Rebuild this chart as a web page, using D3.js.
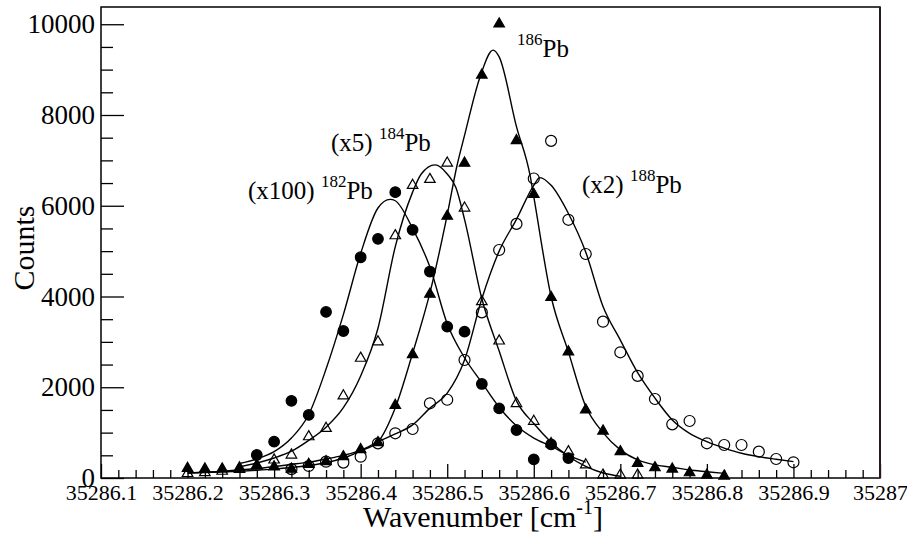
<!DOCTYPE html>
<html>
<head>
<meta charset="utf-8">
<script src="https://cdn.jsdelivr.net/npm/d3@7"></script>
<style>
  body { margin: 0; background: #fff; }
  svg text { font-family: "Liberation Serif", "Times New Roman", serif; fill: #000; }
</style>
</head>
<body>
<svg id="chart" width="907" height="535"></svg>
<script>
// measured points, one slot per 0.02 cm-1 step (null = no point)
const wavenumber = [35286.20, 35286.22, 35286.24, 35286.26, 35286.28, 35286.30, 35286.32, 35286.34, 35286.36, 35286.38,
  35286.40, 35286.42, 35286.44, 35286.46, 35286.48, 35286.50, 35286.52, 35286.54, 35286.56, 35286.58,
  35286.60, 35286.62, 35286.64, 35286.66, 35286.68, 35286.70, 35286.72, 35286.74, 35286.76, 35286.78,
  35286.80, 35286.82, 35286.84, 35286.86, 35286.88, 35286.90];

const pb182 = [null, null, null, null, 507, 800, 1700, 1390, 3660, 3240,
  4865, 5270, 6300, 5470, 4550, 3335, 3225, 2072, 1536, 1058,
  412, 740, 440, null, null, null, null, null, null, null,
  null, null, null, null, null, null];
const pb184 = [100, 120, 150, 190, 260, 397, 507, 910, 1095, 1810,
  2640, 3000, 5340, 6450, 6580, 6940, 5950, 3886, 3020, 1640,
  1250, 760, 580, 290, 66, 66, 66, null, null, null,
  null, null, null, null, null, null];
const pb186 = [214, 200, 200, 225, 280, 245, 195, 300, 360, 470,
  625, 780, 1600, 2720, 4050, 5770, 6940, 8880, 10006, 7435,
  6250, 3980, 2780, 1500, 1036, 580, 324, 227, 198, 117,
  66, 44, null, null, null, null];
const pb188 = [null, null, null, null, null, null, 195, 264, 360, 340,
  470, 764, 985, 1080, 1646, 1725, 2600, 3650, 5025, 5600,
  6600, 7430, 5690, 4937, 3445, 2770, 2250, 1741, 1183, 1256,
  765, 727, 727, 580, 419, 346];

// fitted line shapes
const fit182X = [35286.26, 35286.28, 35286.30, 35286.32, 35286.34, 35286.36, 35286.38, 35286.40, 35286.42, 35286.434,
  35286.44, 35286.46, 35286.48, 35286.50, 35286.52, 35286.54, 35286.56, 35286.58, 35286.60, 35286.62, 35286.64, 35286.66];
const fit182Y = [320, 420, 580, 880, 1400, 2400, 3600, 4950, 5950, 6140,
  6110, 5500, 4650, 3400, 2650, 2100, 1560, 1150, 880, 700, 500, 350];

const fit184X = [35286.26, 35286.28, 35286.30, 35286.32, 35286.34, 35286.36, 35286.38, 35286.40, 35286.42, 35286.44,
  35286.46, 35286.47, 35286.486, 35286.50, 35286.51, 35286.52, 35286.54, 35286.56, 35286.58, 35286.60,
  35286.62, 35286.64, 35286.66, 35286.68, 35286.70];
const fit184Y = [250, 330, 440, 590, 830, 1120, 1550, 2250, 3300, 5100,
  6300, 6700, 6900, 6700, 6400, 5700, 3950, 2800, 1700, 1200,
  790, 480, 255, 110, 40];

const fit186X = [35286.20, 35286.22, 35286.24, 35286.26, 35286.28, 35286.30, 35286.32, 35286.34, 35286.36, 35286.38,
  35286.40, 35286.42, 35286.44, 35286.46, 35286.48, 35286.50, 35286.511, 35286.52, 35286.538, 35286.553,
  35286.56, 35286.58, 35286.596, 35286.60, 35286.62, 35286.64, 35286.66, 35286.68, 35286.70, 35286.72,
  35286.74, 35286.76, 35286.78, 35286.80, 35286.82];
const fit186Y = [110, 120, 135, 150, 170, 195, 230, 275, 335, 440,
  600, 800, 1550, 2750, 4080, 5800, 6860, 7550, 8845, 9430,
  9280, 7743, 6641, 6200, 4000, 2780, 1580, 1000, 620, 400,
  290, 236, 176, 139, 103];

const fit188X = [35286.20, 35286.24, 35286.28, 35286.32, 35286.34, 35286.36, 35286.38, 35286.40, 35286.42, 35286.44,
  35286.46, 35286.48, 35286.50, 35286.52, 35286.54, 35286.56, 35286.58, 35286.60, 35286.607, 35286.62,
  35286.64, 35286.66, 35286.68, 35286.70, 35286.72, 35286.74, 35286.76, 35286.78, 35286.80, 35286.82,
  35286.84, 35286.86, 35286.88, 35286.90];
const fit188Y = [110, 150, 210, 300, 350, 420, 500, 610, 800, 970,
  1170, 1540, 1870, 2600, 3950, 5000, 5700, 6450, 6620, 6450,
  5830, 4980, 3780, 3040, 2320, 1760, 1280, 985, 800, 660,
  545, 470, 412, 360];

const xTicks = [35286.1, 35286.2, 35286.3, 35286.4, 35286.5, 35286.6, 35286.7, 35286.8, 35286.9, 35287];
const xTickLabels = ["35286.1", "35286.2", "35286.3", "35286.4", "35286.5", "35286.6", "35286.7", "35286.8", "35286.9", "35287"];
const yTicks = [0, 2000, 4000, 6000, 8000, 10000];
const yTickLabels = ["0", "2000", "4000", "6000", "8000", "10000"];

const serif = '"Liberation Serif", "Times New Roman", serif';
const svg = d3.select("#chart");
const frameL = 101, frameR = 880, frameT = 7, frameB = 478;

const x = d3.scaleLinear().domain([35286.1, 35287]).range([frameL, frameR]);
const y = d3.scaleLinear().domain([0, 10380]).range([frameB, frameT]);

// minor ticks
const xMinor = d3.range(0, 46).map(i => 35286.1 + i * 0.02).filter((v, i) => i % 5 !== 0);
const yMinor = d3.range(0, 21).map(i => i * 500).filter(v => v % 2000 !== 0);

function styleAxis(g) {
  g.select(".domain").remove();
  g.attr("font-family", null);
  g.selectAll("line").attr("stroke", "#000").attr("stroke-width", 1.3);
}

svg.append("g").attr("transform", `translate(0,${frameB})`)
  .call(d3.axisBottom(x).tickValues(xMinor).tickSize(-8).tickFormat(""))
  .call(styleAxis);
svg.append("g").attr("transform", `translate(0,${frameB})`)
  .call(d3.axisBottom(x).tickValues(xTicks).tickSize(-14).tickPadding(6)
    .tickFormat((d, i) => xTickLabels[i]))
  .call(styleAxis)
  .selectAll("text").style("font-size", "22px").style("font-family", serif);

svg.append("g").attr("transform", `translate(${frameL},0)`)
  .call(d3.axisLeft(y).tickValues(yMinor).tickSize(-12).tickFormat(""))
  .call(styleAxis);
svg.append("g").attr("transform", `translate(${frameL},0)`)
  .call(d3.axisLeft(y).tickValues(yTicks).tickSize(-23).tickPadding(6)
    .tickFormat((d, i) => yTickLabels[i]))
  .call(styleAxis)
  .selectAll("text").style("font-size", "27px").style("font-family", serif);

// frame
svg.append("rect")
  .attr("x", frameL).attr("y", frameT)
  .attr("width", frameR - frameL).attr("height", frameB - frameT)
  .attr("fill", "none").attr("stroke", "#000").attr("stroke-width", 1.5);
svg.append("line")
  .attr("x1", frameR).attr("x2", frameR).attr("y1", frameT).attr("y2", frameB)
  .attr("stroke", "#2a1a1a").attr("stroke-width", 2);

// fit curves
const line = d3.line().x(d => x(d[0])).y(d => y(d[1])).curve(d3.curveMonotoneX);
[[fit182X, fit182Y], [fit184X, fit184Y], [fit186X, fit186Y], [fit188X, fit188Y]].forEach(([fx, fy]) => {
  svg.append("path")
    .datum(fx.map((v, i) => [v, fy[i]]))
    .attr("d", line)
    .attr("fill", "none")
    .attr("stroke", "#000")
    .attr("stroke-width", 1.4);
});

// markers
const series = [
  { values: pb188, shape: d3.symbolCircle, size: 95, filled: false },
  { values: pb184, shape: d3.symbolTriangle, size: 48, filled: false },
  { values: pb182, shape: d3.symbolCircle, size: 88, filled: true },
  { values: pb186, shape: d3.symbolTriangle, size: 48, filled: true }
];
series.forEach(s => {
  const pts = wavenumber.map((w, i) => [w, s.values[i]]).filter(p => p[1] != null);
  svg.append("g").selectAll("path")
    .data(pts)
    .join("path")
    .attr("transform", d => `translate(${x(d[0])},${y(d[1])})`)
    .attr("d", d3.symbol(s.shape, s.size))
    .attr("fill", s.filled ? "#000" : "#fff")
    .attr("fill-opacity", s.filled ? 1 : 0)
    .attr("stroke", "#000")
    .attr("stroke-width", 1.2);
});

// isotope labels
function isoLabel(prefix, mass, xStart, base) {
  const t = svg.append("text").attr("x", xStart).attr("y", base).style("font-size", "25px");
  if (prefix) t.append("tspan").text(prefix + "\u00a0");
  t.append("tspan").style("font-size", "17px").attr("dy", -12.5).text(mass);
  t.append("tspan").attr("dy", 12.5).text("Pb");
}
isoLabel("(x100)", "182", 248, 199);
isoLabel("(x5)", "184", 331, 151);
isoLabel("", "186", 517, 57);
isoLabel("(x2)", "188", 582, 193);

// axis titles
svg.append("text")
  .attr("transform", "translate(34,248) rotate(-90)")
  .attr("text-anchor", "middle")
  .style("font-size", "30px")
  .text("Counts");

const xt = svg.append("text")
  .attr("x", 363).attr("y", 527)
  .style("font-size", "30px");
xt.append("tspan").text("Wavenumber [cm");
xt.append("tspan").style("font-size", "20px").attr("dy", -13).text("-1");
xt.append("tspan").attr("dy", 13).text("]");
</script>
</body>
</html>
